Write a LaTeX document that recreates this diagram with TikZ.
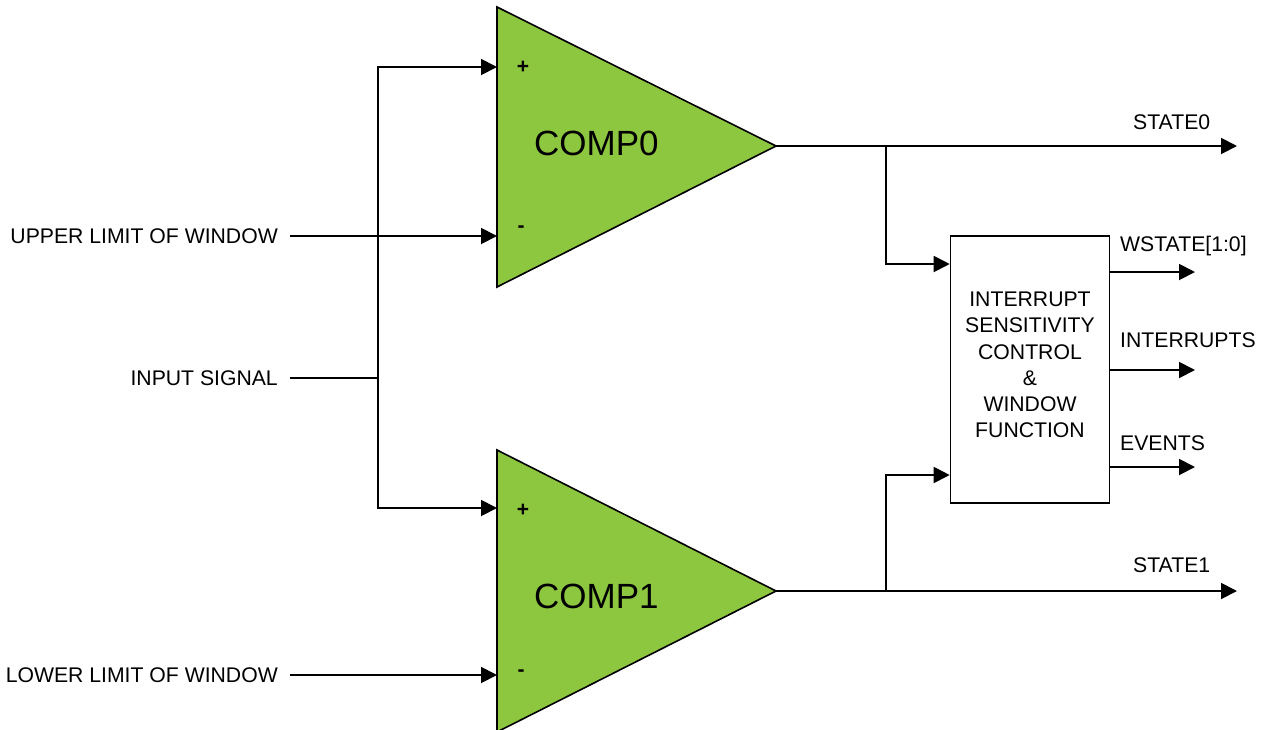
\documentclass[tikz,border=0pt]{standalone}
\usepackage{fontspec}
\setmainfont{Liberation Sans}
\usetikzlibrary{arrows.meta}
\definecolor{compgreen}{RGB}{141,198,63}
\begin{document}
\begin{tikzpicture}[x=1pt,y=-1pt,
  wire/.style={line width=1.9pt},
  arr/.style={wire,-{Triangle[length=16pt,width=16pt]}},
  lbl/.style={inner sep=0pt,font=\fontsize{21.2}{26.2}\selectfont},
  big/.style={inner sep=0pt,font=\fontsize{35}{40}\selectfont},
  sign/.style={inner sep=0pt,font=\bfseries\fontsize{21}{24}\selectfont},
  comp/.style={draw=black,fill=compgreen,line width=1.6pt},
  boxst/.style={draw=black,line width=1.6pt,minimum width=159pt,minimum height=267pt,inner sep=0pt}]
\useasboundingbox (0,0) rectangle (1267,729);
% comparators
\draw[comp] (497,7) coordinate (c0tl) -- (776,146) coordinate (c0) -- (497,287) -- cycle;
\draw[comp] (497,450) coordinate (c1tl) -- (776,591) coordinate (c1) -- (497,732) -- cycle;
\node[big,anchor=base west] (t0) at (534,155) {COMP0};
\node[big,anchor=base west] (t1) at (534,608) {COMP1};
\node[sign] (p0) at (523,67) {+};
\node[sign] (m0) at (521,229) {-};
\node[sign] (p1) at (523,510) {+};
\node[sign] (m1) at (521,673) {-};
% input pins
\coordinate (c0p) at (497,67);
\coordinate (c0m) at (497,236);
\coordinate (c1p) at (497,508);
\coordinate (c1m) at (497,675);
% left labels
\node[lbl,anchor=base east] (upper) at (278,243.5) {UPPER LIMIT OF WINDOW};
\node[lbl,anchor=base east] (insig) at (278,385.5) {INPUT SIGNAL};
\node[lbl,anchor=base east] (lower) at (278,682.5) {LOWER LIMIT OF WINDOW};
\coordinate (us) at (290,236);
\coordinate (is) at (290,378);
\coordinate (ls) at (290,675);
\coordinate (j) at (378,378);
\draw[arr] (us) -- (c0m);
\draw[arr] (ls) -- (c1m);
\draw[wire] (is) -- (j);
\draw[arr] (j) |- (c0p);
\draw[arr] (j) |- (c1p);
% box
\node[boxst] (isc) at (1030,369.5) {};
\node[lbl,align=center] (isctext) at (1030,365) {INTERRUPT\\SENSITIVITY\\CONTROL\\\&\\WINDOW\\FUNCTION};
\coordinate (b0) at (886,146);
\coordinate (b1) at (886,591);
\coordinate (bi0) at (isc.west |- 0,264);
\coordinate (bi1) at (isc.west |- 0,475);
% outputs
\coordinate (s0) at (1237,146);
\coordinate (s1) at (1237,591);
\draw[arr] (c0) -- (s0);
\draw[arr] (c1) -- (s1);
\draw[arr] (b0) |- (bi0);
\draw[arr] (b1) |- (bi1);
\node[lbl,anchor=base west] (st0) at (1133,129.5) {STATE0};
\node[lbl,anchor=base west] (st1) at (1133,572) {STATE1};
\coordinate (o1) at (isc.east |- 0,272);
\coordinate (o2) at (isc.east |- 0,370);
\coordinate (o3) at (isc.east |- 0,467);
\draw[arr] (o1) -- (1195,272) coordinate (e1);
\draw[arr] (o2) -- (1195,370) coordinate (e2);
\draw[arr] (o3) -- (1195,467) coordinate (e3);
\node[lbl,anchor=base west] (ws) at (1120,251) {WSTATE[1:0]};
\node[lbl,anchor=base west] (ir) at (1120,347) {INTERRUPTS};
\node[lbl,anchor=base west] (ev) at (1120,450) {EVENTS};
\end{tikzpicture}
\end{document}
